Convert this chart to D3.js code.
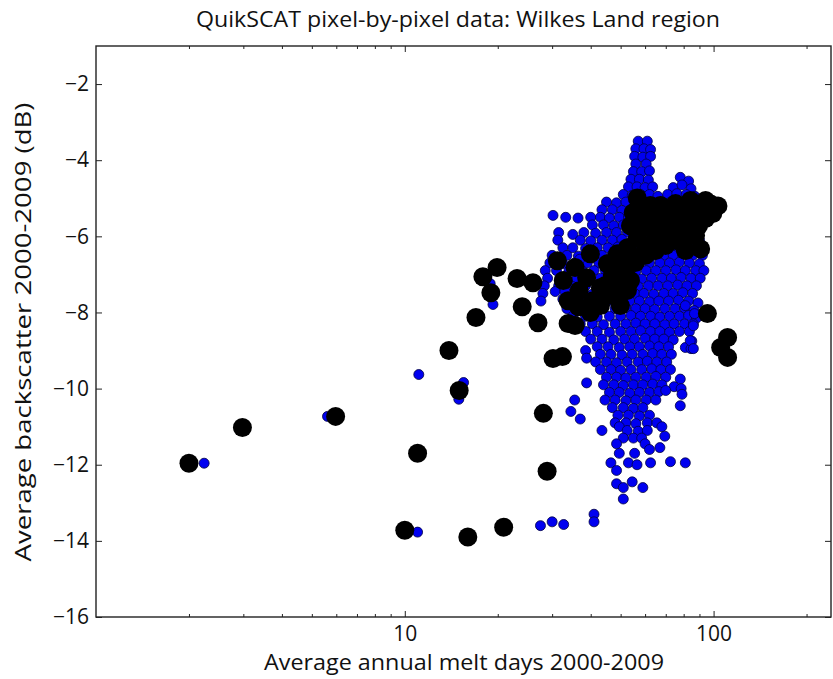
<!DOCTYPE html>
<html>
<head>
<meta charset="utf-8">
<script src="https://cdn.jsdelivr.net/npm/d3@7"></script>
<style>
  body { margin: 0; background: #fff; }
  text { font-family: "Open Sans", "Noto Sans", sans-serif; fill: #111; }
</style>
</head>
<body>
<svg id="chart" width="833" height="679"></svg>
<script>
// Chart text
const chartTitle = "QuikSCAT pixel-by-pixel data: Wilkes Land region";
const xLabel = "Average annual melt days 2000-2009";
const yLabel = "Average backscatter 2000-2009 (dB)";

// Tick values
const xMajorTicks = [10, 100];
const xMinorTicks = [2, 3, 4, 5, 6, 7, 8, 9, 20, 30, 40, 50, 60, 70, 80, 90, 200];
const yTicks = [-16, -14, -12, -10, -8, -6, -4, -2];

// Individual pixels: [melt days, backscatter dB]
const pixelPoints = [
  [57,-3.5],[61,-3.5],
  [56,-3.7],[59.5,-3.7],[62.5,-3.72],
  [55.5,-3.9],[59,-3.92],[62.5,-3.9],
  [56,-4.1],[60.5,-4.1],
  [55,-4.3],[58.5,-4.3],[62,-4.28],
  [54,-4.5],[57.5,-4.5],[61.5,-4.52],[78,-4.45],[83,-4.55],
  [53,-4.7],[56.5,-4.7],[60,-4.72],[63.5,-4.7],[74,-4.72],[79,-4.65],[84.5,-4.75],
  [51,-4.9],[54.5,-4.92],[58,-4.9],[62,-4.9],[66,-4.95],[71,-4.9],[76,-4.88],[81.5,-4.9],[87,-4.95],
  [45,-5.1],[48.5,-5.12],[52,-5.1],[55.5,-5.08],[59.5,-5.1],[63.5,-5.12],[68,-5.1],[72.5,-5.1],[77.5,-5.08],[83,-5.1],[89,-5.12],
  [43.5,-5.3],[47,-5.3],[50.5,-5.32],[54,-5.3],[58,-5.3],[62,-5.28],[66.5,-5.3],[71,-5.32],[76,-5.3],[81.5,-5.3],[87,-5.3],[92,-5.32],
  [30.2,-5.45],[33.2,-5.5],[36.4,-5.52],[40,-5.5],[43,-5.5],[46,-5.52],[49.5,-5.5],[53,-5.5],[57,-5.48],[61,-5.5],[65,-5.5],[70,-5.52],[75,-5.5],[80,-5.5],[86,-5.5],[93,-5.5],
  [40.5,-5.7],[44,-5.7],[47.5,-5.72],[51,-5.7],[55,-5.7],[59,-5.68],[63,-5.7],[67.5,-5.7],[72.5,-5.72],[78,-5.7],[84,-5.7],[90.5,-5.72],
  [31.5,-5.9],[35,-5.95],[38,-5.9],[41.5,-5.92],[45,-5.9],[48.5,-5.9],[52.5,-5.88],[56.5,-5.9],[60.5,-5.9],[65,-5.92],[70,-5.9],[75,-5.9],[80.5,-5.88],[86.5,-5.9],
  [31.3,-6.1],[37,-6.1],[40,-6.12],[43.5,-6.1],[47,-6.1],[50.5,-6.08],[54.5,-6.1],[58.5,-6.1],[63,-6.12],[68,-6.1],[73,-6.1],[78.5,-6.1],[84.5,-6.12],[90,-6.1],
  [32.5,-6.3],[35,-6.3],[38.5,-6.32],[42,-6.3],[45.5,-6.3],[49,-6.28],[53,-6.3],[57,-6.3],[61.5,-6.32],[66,-6.3],[71,-6.3],[76.5,-6.3],[82,-6.28],[88,-6.3],
  [30,-6.5],[33.5,-6.5],[36.5,-6.52],[40,-6.5],[43.5,-6.5],[47,-6.48],[51,-6.5],[55,-6.5],[59.5,-6.52],[64,-6.5],[69,-6.5],[74,-6.5],[79.5,-6.48],[85.5,-6.5],[92,-6.5],
  [29.5,-6.7],[32.5,-6.72],[35.5,-6.7],[39,-6.7],[42.5,-6.7],[46,-6.68],[49.5,-6.7],[53.5,-6.7],[57.5,-6.72],[62,-6.7],[67,-6.7],[72,-6.7],[77.5,-6.68],[83.5,-6.7],[90,-6.72],
  [28.5,-6.9],[31,-6.9],[34,-6.92],[37.5,-6.9],[41,-6.9],[44.5,-6.88],[48,-6.9],[52,-6.9],[56,-6.92],[60.5,-6.9],[65,-6.9],[70,-6.9],[75.5,-6.88],[81,-6.9],[87.5,-6.9],[93,-6.9],
  [29,-7.1],[32.5,-7.1],[36,-7.12],[39.5,-7.1],[43,-7.1],[46.5,-7.08],[50.5,-7.1],[54.5,-7.1],[58.5,-7.12],[63,-7.1],[68,-7.1],[73,-7.1],[78.5,-7.08],[84.5,-7.1],[90.5,-7.1],
  [28.3,-7.3],[31.5,-7.3],[35,-7.32],[38.5,-7.3],[42,-7.3],[45.5,-7.28],[49,-7.3],[53,-7.3],[57,-7.32],[61.5,-7.3],[66,-7.3],[71,-7.3],[76.5,-7.28],[82,-7.3],[88,-7.3],
  [28,-7.5],[30.7,-7.45],[33,-7.45],[37,-7.5],[40.5,-7.52],[44,-7.5],[47.5,-7.5],[51.5,-7.48],[55.5,-7.5],[59.5,-7.5],[64,-7.52],[69,-7.5],[74,-7.5],[79.5,-7.48],[85.5,-7.5],
  [27.6,-7.7],[32.5,-7.65],[35,-7.7],[38.5,-7.72],[42,-7.7],[45.5,-7.7],[49.5,-7.68],[53.5,-7.7],[57.5,-7.7],[62,-7.72],[66.5,-7.7],[71.5,-7.7],[77,-7.68],[83,-7.7],[89,-7.75],
  [33.5,-7.9],[37,-7.9],[40.5,-7.92],[44,-7.9],[48,-7.9],[52,-7.88],[56,-7.9],[60,-7.9],[64.5,-7.92],[69.5,-7.9],[75,-7.9],[80.5,-7.88],[86.5,-7.95],
  [35,-8.1],[38.5,-8.1],[42,-8.12],[46,-8.1],[50,-8.1],[54,-8.08],[58,-8.1],[62.5,-8.1],[67,-8.12],[72,-8.1],[77.5,-8.1],[83,-8.08],[88,-8.15],
  [37,-8.3],[40.5,-8.3],[44,-8.32],[48,-8.3],[52,-8.3],[56,-8.28],[60,-8.3],[64.5,-8.3],[69.5,-8.32],[74.5,-8.3],[80.5,-8.3],[86,-8.3],
  [38.5,-8.5],[42,-8.5],[46,-8.52],[50,-8.5],[54,-8.5],[58,-8.48],[62.5,-8.5],[67,-8.5],[72,-8.52],[77.5,-8.5],[83.5,-8.5],
  [40,-8.7],[43.5,-8.7],[47.5,-8.72],[51.5,-8.7],[55.5,-8.7],[60,-8.68],[64.5,-8.7],[69,-8.7],[74,-8.72],[85,-8.75],
  [38.5,-9.0],[42,-8.9],[45.5,-8.9],[49.5,-8.92],[53.5,-8.9],[57.5,-8.9],[62,-8.88],[66.5,-8.9],[71.5,-8.9],[81,-8.92],[84.5,-8.95],
  [38.8,-9.2],[43,-9.1],[46.5,-9.1],[50.5,-9.12],[54.5,-9.1],[59,-9.1],[63.5,-9.08],[68,-9.1],[73,-9.1],
  [41.5,-9.3],[45,-9.3],[48.5,-9.32],[52.5,-9.3],[57,-9.3],[61,-9.28],[65.5,-9.3],[70.5,-9.3],
  [43,-9.5],[46.5,-9.5],[50,-9.52],[54,-9.5],[58.5,-9.5],[63,-9.48],[67.5,-9.5],[72.5,-9.5],
  [45,-9.7],[48.5,-9.7],[52,-9.72],[56,-9.7],[60.5,-9.7],[65,-9.68],[70,-9.7],[78,-9.75],
  [38.8,-9.85],[44,-9.9],[47.5,-9.9],[51,-9.92],[55,-9.9],[59,-9.9],[63.5,-9.88],[68,-9.9],[74.5,-9.95],[78.5,-10.0],
  [46,-10.1],[49.5,-10.1],[53.5,-10.12],[57.5,-10.1],[62,-10.1],[66.5,-10.08],[70,-10.05],[79,-10.15],
  [35.5,-10.3],[44.5,-10.3],[48,-10.3],[52,-10.32],[56,-10.3],[60.5,-10.3],[65,-10.3],
  [47,-10.5],[51,-10.5],[55,-10.52],[59,-10.5],[78,-10.45],
  [34.5,-10.6],[37,-10.8],[49,-10.7],[53,-10.7],[57.5,-10.72],[62,-10.7],
  [48,-10.9],[52,-10.9],[56,-10.92],[61,-10.9],[65.5,-10.9],
  [43.5,-11.1],[49.5,-11.0],[52.5,-11.1],[57,-11.12],[61,-11.1],[68,-11.0],
  [51,-11.3],[55,-11.3],[58.5,-11.3],[69.5,-11.25],
  [48.5,-11.45],[60,-11.45],[67,-11.55],
  [49.5,-11.7],[55.5,-11.7],[62,-11.6],
  [46.5,-11.95],[53,-11.95],[56.5,-12.0],[62.5,-11.95],[72.5,-11.92],[81,-11.95],
  [48.5,-12.15],
  [48.5,-12.5],[51,-12.6],[54.5,-12.45],[59,-12.6],
  [51,-12.9],
  [41,-13.3],[41,-13.5],
  [27.5,-13.6],[30,-13.5],[32.7,-13.57],
  [2.24,-11.96],[5.62,-10.73],[11.0,-13.77],[11.1,-9.63],[15.5,-9.84],[14.96,-10.28],[18.9,-7.24],[19.3,-7.79],
  [36.9,-6.6],[81,-7.82],[86.7,-8.03],[86,-8.35],[84,-8.74],[86,-8.95]
];

// Regional averages: [melt days, backscatter dB]
const regionPoints = [
  [2.0,-11.96],[2.98,-11.02],[5.97,-10.73],[10.0,-13.72],[11.0,-11.70],
  [13.9,-9.0],[15.0,-10.05],[16.0,-13.9],[17.0,-8.13],[17.9,-7.06],
  [19.0,-7.48],[19.9,-6.82],[20.9,-13.64],[23.1,-7.11],[26.0,-7.22],
  [24.0,-7.85],[27.0,-8.27],[28.1,-10.65],[28.9,-12.17],[30.2,-9.21],
  [32.4,-9.16],[31.2,-6.64],[33.8,-8.29],[35.6,-8.34],
  [35.6,-6.82],[38.8,-7.09],[36.7,-7.43],[40.7,-7.69],[36.5,-7.85],
  [43.0,-7.35],[39.9,-6.46],[45.3,-6.72],[48.8,-6.46],[47.0,-7.03],
  [52.6,-6.30],[50.6,-6.77],[56.6,-6.04],[54.6,-6.53],[60.9,-5.77],
  [60.2,-6.25],[65.6,-5.59],[64.8,-6.07],[70.7,-5.51],[69.9,-5.93],
  [76.2,-5.41],[75.3,-5.85],[82.1,-5.33],[82.7,-5.80],[90.8,-5.25],
  [89.4,-5.72],[97.8,-5.15],[103.3,-5.20],[56.6,-4.99],[59.4,-5.25],
  [57.9,-5.51],[90.8,-6.33],[95.5,-8.03],[111,-8.66],[105.4,-8.92],[111,-9.18],
  [44.6,-7.29],[48.1,-7.16],[51.8,-6.90],[55.8,-6.69],[60.2,-6.50],
  [64.8,-6.37],[69.9,-6.24],[75.3,-6.11],[81.1,-6.06],[87.4,-5.98],
  [46.3,-7.55],[49.9,-7.42],[53.8,-7.16],[39.9,-8.0],[43.0,-7.82],
  [67.3,-5.72],[84.2,-5.53],[94.2,-5.53],[99.4,-5.40],[78.2,-5.72],[62.4,-5.46],
  [49.9,-7.82],[52.6,-7.42],[32.6,-7.16],[33.8,-7.69],[53.8,-5.72],
  [62.4,-5.19],[54.9,-5.38],[84.2,-5.06],[94.2,-5.06],[67.3,-5.19],
  [75.3,-5.14],[81.1,-6.37]
];

const svg = d3.select("#chart");
const W = 833, H = 679;
const plot = { left: 96, right: 831, top: 46, bottom: 617 };

const x = d3.scaleLog().domain([1, 240]).range([plot.left, plot.right]);
const y = d3.scaleLinear().domain([-16, -1]).range([plot.bottom, plot.top]);

svg.append("rect").attr("width", W).attr("height", H).attr("fill", "#fff");

// Clip marks to the axes box
svg.append("clipPath").attr("id", "plotClip")
  .append("rect")
  .attr("x", plot.left).attr("y", plot.top)
  .attr("width", plot.right - plot.left).attr("height", plot.bottom - plot.top);

const marks = svg.append("g").attr("clip-path", "url(#plotClip)");

marks.selectAll("circle.pixel")
  .data(pixelPoints)
  .join("circle")
  .attr("class", "pixel")
  .attr("cx", d => x(d[0]))
  .attr("cy", d => y(d[1]))
  .attr("r", 5)
  .attr("fill", "#0000f0")
  .attr("stroke", "#000040")
  .attr("stroke-width", 0.8);

marks.selectAll("circle.region")
  .data(regionPoints)
  .join("circle")
  .attr("class", "region")
  .attr("cx", d => x(d[0]))
  .attr("cy", d => y(d[1]))
  .attr("r", 9.5)
  .attr("fill", "#000");

// Axes: ticks point inward on all four sides
const fmtX = d => String(d);
const axisStyle = g => {
  g.selectAll(".domain").remove();
  g.selectAll("line").attr("stroke", "#222").attr("stroke-width", 1);
  g.selectAll("text").attr("font-family", '"Open Sans", sans-serif').attr("fill", "#111");
};

svg.append("g")
  .attr("transform", `translate(0,${plot.bottom})`)
  .call(d3.axisBottom(x).tickValues(xMajorTicks).tickFormat(fmtX).tickSize(-6).tickPadding(9))
  .call(axisStyle)
  .call(g => g.selectAll("text").attr("font-size", 21));

svg.append("g")
  .attr("transform", `translate(0,${plot.bottom})`)
  .call(d3.axisBottom(x).tickValues(xMinorTicks).tickFormat("").tickSize(-3))
  .call(axisStyle);

svg.append("g")
  .attr("transform", `translate(0,${plot.top})`)
  .call(d3.axisTop(x).tickValues(xMajorTicks).tickFormat("").tickSize(-6))
  .call(axisStyle);

svg.append("g")
  .attr("transform", `translate(0,${plot.top})`)
  .call(d3.axisTop(x).tickValues(xMinorTicks).tickFormat("").tickSize(-3))
  .call(axisStyle);

svg.append("g")
  .attr("transform", `translate(${plot.left},0)`)
  .call(d3.axisLeft(y).tickValues(yTicks).tickFormat(d3.format("d")).tickSize(-6).tickPadding(7))
  .call(axisStyle)
  .call(g => g.selectAll("text").attr("font-size", 21));

svg.append("g")
  .attr("transform", `translate(${plot.right},0)`)
  .call(d3.axisRight(y).tickValues(yTicks).tickFormat("").tickSize(-6))
  .call(axisStyle);

// Axes frame
svg.append("rect")
  .attr("x", plot.left).attr("y", plot.top)
  .attr("width", plot.right - plot.left).attr("height", plot.bottom - plot.top)
  .attr("fill", "none").attr("stroke", "#222").attr("stroke-width", 1.4);

// Title and axis labels
svg.append("text")
  .attr("x", 458).attr("y", 27)
  .attr("text-anchor", "middle").attr("font-size", 22)
  .attr("textLength", 524).attr("lengthAdjust", "spacingAndGlyphs")
  .text(chartTitle);

svg.append("text")
  .attr("x", 464).attr("y", 670)
  .attr("text-anchor", "middle").attr("font-size", 22)
  .attr("textLength", 400).attr("lengthAdjust", "spacingAndGlyphs")
  .text(xLabel);

svg.append("text")
  .attr("transform", `translate(31,332) rotate(-90)`)
  .attr("text-anchor", "middle").attr("font-size", 22)
  .attr("textLength", 459).attr("lengthAdjust", "spacingAndGlyphs")
  .text(yLabel);
</script>
</body>
</html>
